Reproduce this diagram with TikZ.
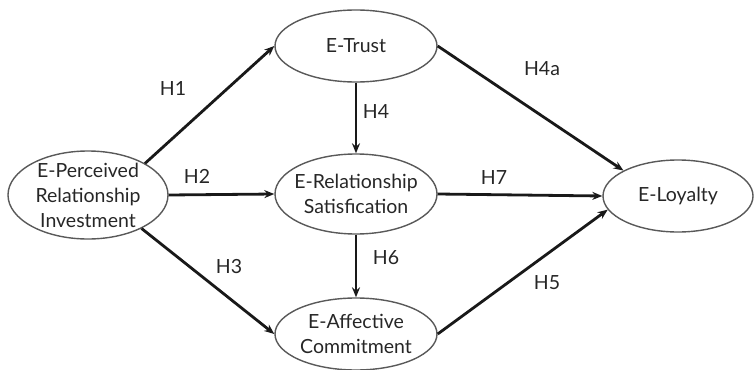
\documentclass[tikz,border=0pt]{standalone}
\usepackage{fontspec}
\setmainfont{Lato}
\usetikzlibrary{shapes.geometric}
\usetikzlibrary{arrows.meta}
\usetikzlibrary{positioning}
\tikzset{
>={Stealth[length=10pt,width=8pt]}, % filled arrow tips
construct text/.style={align=center,text=black!85,font=\fontsize{19.5}{25}\selectfont},
construct/.style={ellipse,draw=black!65,line width=1.4pt,inner sep=0pt,
  label={[construct text]center:{#1}}},
link/.style={->,line width=2.8pt,draw=black!90},
hyp/.style={text=black!85,font=\fontsize{19.5}{25}\selectfont},
}
\begin{document}
\begin{tikzpicture}[x=1pt,y=-1pt]
\useasboundingbox (0,0) rectangle (754,369);
% constructs
\node[construct={E-Perceived\\Relationship\\Investment},minimum width=160pt,minimum height=88pt] (P) at (88,195) {};
\node[construct={E-Trust},minimum width=162pt,minimum height=72pt] (T) at (356,46) {};
\node[construct={E-Relationship\\Satisfication},minimum width=162pt,minimum height=80pt] (R) at (356,194) {};
\node[construct={E-Affective\\Commitment},minimum width=162pt,minimum height=72pt] (A) at (356,334) {};
\node[construct={E-Loyalty},minimum width=150pt,minimum height=72pt] (L) at (678,196) {};
% paths
\draw[link] (P.29) -- (T.west);
\draw[link] (P.east) -- (R.west);
\draw[link] (P.-32) -- (A.west);
\draw[link] (T.south) -- (R.north);
\draw[link] (R.south) -- (A.north);
\draw[link] (T.east) -- (L.155);
\draw[link] (R.east) -- (L.west);
\draw[link] (A.east) -- (L.191);
% hypotheses
\node[hyp] (h1) at (173,88) {H1};
\node[hyp] (h2) at (197,176) {H2};
\node[hyp] (h3) at (229,267) {H3};
\node[hyp] (h4) at (376,112) {H4};
\node[hyp] (h4a) at (542,69) {H4a};
\node[hyp] (h5) at (547,283) {H5};
\node[hyp] (h6) at (386,258) {H6};
\node[hyp] (h7) at (494,178) {H7};
\end{tikzpicture}
\end{document}
